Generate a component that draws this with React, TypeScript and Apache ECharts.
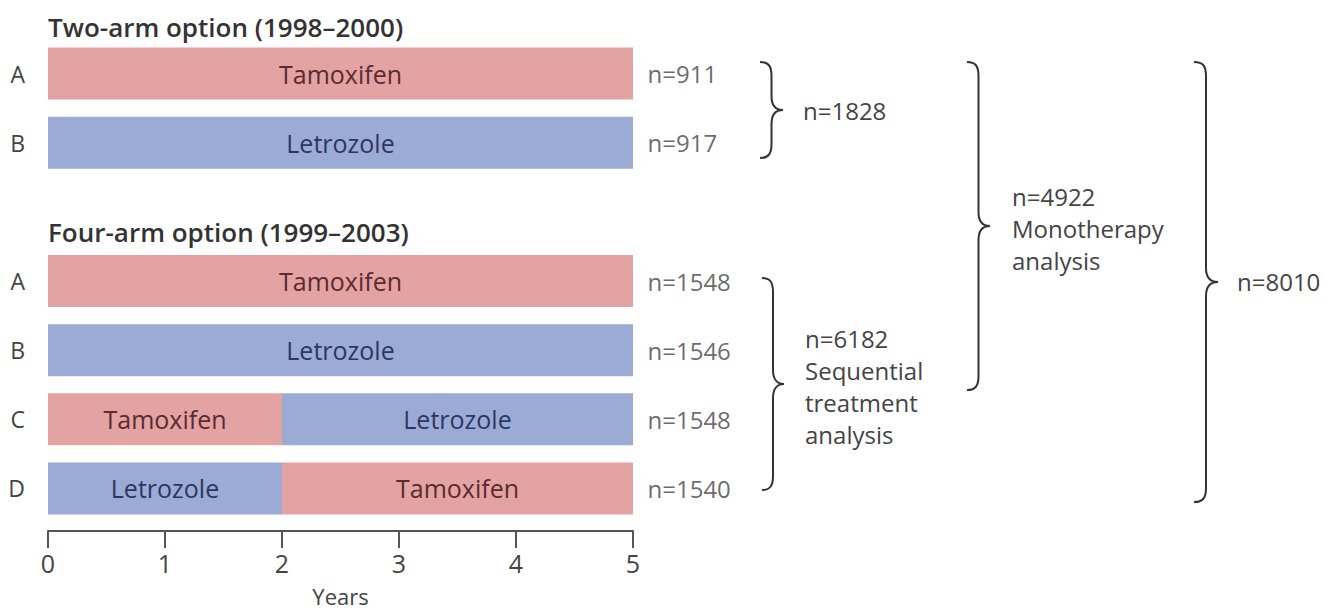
import React, { useEffect, useRef } from "react";
import * as echarts from "echarts";

// ---- Data ----
const rowLetters = ["A", "B", "", "A", "B", "C", "D"];
const firstDrug = ["Tamoxifen", "Letrozole", null, "Tamoxifen", "Letrozole", "Tamoxifen", "Letrozole"];
const firstYears = [5, 5, null, 5, 5, 2, 2];
const secondDrug = [null, null, null, null, null, "Letrozole", "Tamoxifen"];
const secondYears = [null, null, null, null, null, 3, 3];
const armN = [911, 917, null, 1548, 1546, 1548, 1540];
const yearTicks = [0, 1, 2, 3, 4, 5];
const sectionTitles = ["Two-arm option (1998\u20132000)", "Four-arm option (1999\u20132003)"];
const groupLabels = [
  "n=1828",
  "n=6182\nSequential\ntreatment\nanalysis",
  "n=4922\nMonotherapy\nanalysis",
  "n=8010",
];

const drugColor: Record<string, string> = { Tamoxifen: "#e2a3a2", Letrozole: "#9cabd6" };
const drugText: Record<string, string> = { Tamoxifen: "#5a2b30", Letrozole: "#2c3662" };

const FONT = "'Open Sans', 'Noto Sans', sans-serif";

const Brace = (echarts as any).graphic.extendShape({
  type: "brace",
  shape: { x: 0, top: 0, bottom: 100, w: 22 },
  buildPath(ctx: any, s: any) {
    const x = s.x;
    const sp = x + s.w * 0.5;
    const t = x + s.w;
    const m = (s.top + s.bottom) / 2;
    const r = 14;
    ctx.moveTo(x, s.top);
    ctx.bezierCurveTo(sp - 3, s.top, sp, s.top + 4, sp, s.top + r);
    ctx.lineTo(sp, m - r);
    ctx.bezierCurveTo(sp, m - 4, sp + 5, m, t, m);
    ctx.bezierCurveTo(sp + 5, m, sp, m + 4, sp, m + r);
    ctx.lineTo(sp, s.bottom - r);
    ctx.bezierCurveTo(sp, s.bottom - 4, sp - 3, s.bottom, x, s.bottom);
  },
});
(echarts as any).graphic.registerShape("brace", Brace);

export default function App() {
  const ref = useRef<HTMLDivElement>(null);
  useEffect(() => {
    if (!ref.current) return;
    const chart = echarts.init(ref.current, null, { renderer: "svg" });

    const seg = (years: (number | null)[], drugs: (string | null)[]) =>
      years.map((v, i) =>
        v == null
          ? null
          : {
              value: v,
              itemStyle: { color: drugColor[drugs[i] as string] },
              label: { color: drugText[drugs[i] as string], formatter: drugs[i] as string },
            }
      );

    const braceStyle = { stroke: "#333", lineWidth: 2, fill: null };
    const txt = (text: string, x: number, y: number, extra: any = {}) => ({
      type: "text",
      style: {
        text,
        x,
        y,
        font: `24px ${FONT}`,
        fill: "#444",
        verticalAlign: "middle",
        ...extra,
      },
    });

    chart.setOption({
      animation: false,
      backgroundColor: "#fff",
      grid: { left: 48, width: 585, top: 39, height: 484, outerBoundsMode: "none", containLabel: false },
      xAxis: {
        type: "value",
        min: yearTicks[0],
        max: yearTicks[yearTicks.length - 1],
        interval: 1,
        offset: 8,
        axisLine: { show: true, lineStyle: { color: "#555", width: 2 } },
        axisTick: { show: true, length: 17, lineStyle: { color: "#555", width: 2 } },
        axisLabel: { fontSize: 25, color: "#444", fontFamily: FONT, margin: 19 },
        splitLine: { show: false },
        name: "Years",
        nameLocation: "middle",
        nameGap: 54,
        nameTextStyle: { fontSize: 22, color: "#444", fontFamily: FONT },
      },
      yAxis: {
        type: "category",
        inverse: true,
        data: rowLetters,
        axisLine: { show: false },
        axisTick: { show: false },
        axisLabel: { fontSize: 23, color: "#444", fontFamily: FONT, margin: 23 },
      },
      series: [
        {
          type: "bar",
          stack: "arm",
          barWidth: 52,
          data: seg(firstYears, firstDrug),
          label: { show: true, position: "inside", fontSize: 25, fontFamily: FONT },
        },
        {
          type: "bar",
          stack: "arm",
          barWidth: 52,
          data: seg(secondYears, secondDrug),
          label: { show: true, position: "inside", fontSize: 25, fontFamily: FONT },
        },
        {
          type: "scatter",
          symbol: "circle",
          symbolSize: 1,
          itemStyle: { color: "rgba(0,0,0,0)" },
          data: armN.map((n, i) => (n == null ? null : [yearTicks[yearTicks.length - 1], i, n])),
          label: {
            show: true,
            position: "right",
            distance: 14,
            fontSize: 24,
            fontFamily: FONT,
            color: "#444",
            formatter: (p: any) => "n=" + p.value[2],
          },
        },
      ],
      graphic: [
        txt(sectionTitles[0], 48, 27, { font: `600 26px ${FONT}`, fill: "#333" }),
        txt(sectionTitles[1], 48, 232, { font: `600 26px ${FONT}`, fill: "#333" }),
        { type: "brace", shape: { x: 760, top: 62, bottom: 158, w: 23 }, style: braceStyle },
        { type: "brace", shape: { x: 762, top: 278, bottom: 490, w: 22 }, style: braceStyle },
        { type: "brace", shape: { x: 967, top: 62, bottom: 390, w: 23 }, style: braceStyle },
        { type: "brace", shape: { x: 1194, top: 62, bottom: 502, w: 24 }, style: braceStyle },
        txt(groupLabels[0], 803, 110),
        txt(groupLabels[1], 805, 322, { verticalAlign: "top", lineHeight: 32 }),
        txt(groupLabels[2], 1012, 180, { verticalAlign: "top", lineHeight: 32 }),
        txt(groupLabels[3], 1237, 281),
      ],
    });
    return () => chart.dispose();
  }, []);
  return (
    <div
      ref={ref}
      style={{ position: "absolute", left: 0, top: 0, width: 1343, height: 611 }}
    />
  );
}
